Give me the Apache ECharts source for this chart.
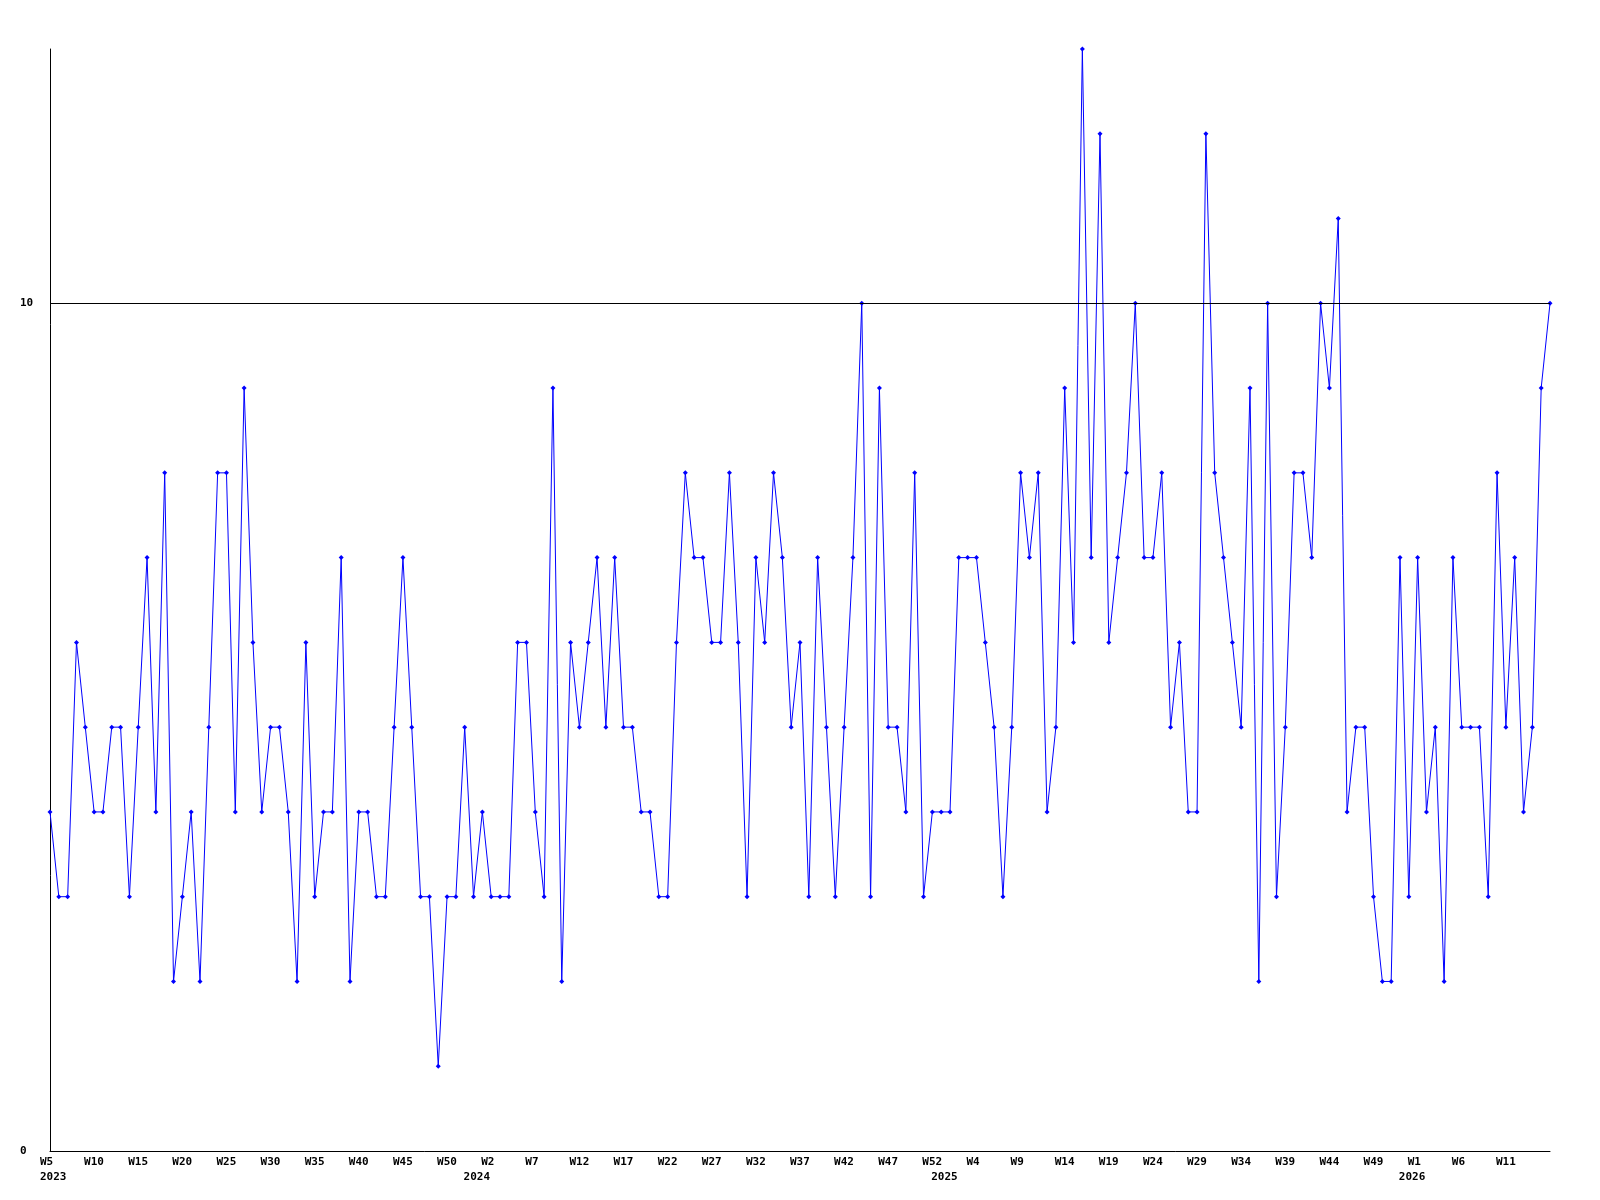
<!DOCTYPE html>
<html>
<head>
<meta charset="utf-8">
<script src="https://cdn.jsdelivr.net/npm/echarts@6/dist/echarts.min.js"></script>
<style>
  html, body { margin: 0; padding: 0; background: #ffffff; }
  #chart { width: 1600px; height: 1200px; }
</style>
</head>
<body>
<div id="chart"></div>
<script>
// Week ranges per year: [year, first week, last week]
const yearSegments = [[2023, 5, 52], [2024, 0, 52], [2025, 0, 52], [2026, 0, 16]];

// Weekly values
const values2023 = [4,3,3,6,5,4,4,5,5,3,5,7,4,8,2,3,4,2,5,8,8,4,9,6,4,5,5,4,2,6,3,4,4,7,
                    2,4,4,3,3,5,7,5,3,3,1,3,3,5];
const values2024 = [3,4,3,3,3,6,6,4,3,9,2,6,5,6,7,5,7,5,5,
                    4,4,3,3,6,8,7,7,6,6,8,6,3,7,6,8,7,5,6,3,7,5,3,5,7,10,3,9,5,5,4,8,3,4];
const values2025 = [4,4,7,7,7,6,5,3,5,8,7,8,4,5,9,6,13,7,12,6,7,8,10,7,7,8,5,6,4,4,12,8,7,
                    6,5,9,2,10,3,5,8,8,7,10,9,11,4,5,5,3,2,2,7];
const values2026 = [3,7,4,5,2,7,5,5,5,3,8,5,7,4,5,9,10];

const yTickLabels = [0, 10];
const referenceLine = 10;

const categories = [];
const yearStart = new Set();
yearSegments.forEach(function (seg) {
  yearStart.add(categories.length);
  for (let w = seg[1]; w <= seg[2]; w++) categories.push(seg[0] + ' W' + w);
});
const values = values2023.concat(values2024, values2025, values2026);
const n = categories.length;

const FONT = 'DejaVu Sans Mono';
const textStyle = { fontFamily: FONT, fontWeight: 'bold', fontSize: 11, color: '#000000',
                    width: 28, align: 'left', padding: [0, 0, 0, 8], lineHeight: 15 };

const chart = echarts.init(document.getElementById('chart'), null, { renderer: 'canvas' });
chart.setOption({
  animation: false,
  backgroundColor: '#ffffff',
  grid: { left: 50, right: 50, top: 49, bottom: 49, containLabel: false },
  xAxis: {
    type: 'category',
    data: categories,
    boundaryGap: false,
    axisLine: { show: true, lineStyle: { color: '#000000', width: 1 } },
    axisTick: { show: false },
    splitLine: { show: false },
    axisLabel: {
      margin: 4,
      interval: function (idx) {
        return (idx % 5 === 0 && idx < n - 1) || yearStart.has(idx);
      },
      formatter: function (v, idx) {
        const parts = v.split(' ');
        const showWeek = idx % 5 === 0 && idx < n - 1;
        let s = showWeek ? '{w|' + parts[1] + '}' : '{h|' + parts[1] + '}';
        if (yearStart.has(idx)) s += '\n{w|' + parts[0] + '}';
        return s;
      },
      rich: {
        w: textStyle,
        h: Object.assign({}, textStyle, { color: 'rgba(0,0,0,0)' })
      }
    }
  },
  yAxis: {
    type: 'value',
    min: 0,
    max: 13,
    interval: 10,
    axisLine: { show: true, lineStyle: { color: '#000000', width: 1 } },
    axisTick: { show: false },
    splitLine: { show: false },
    axisLabel: {
      customValues: yTickLabels,
      align: 'left',
      margin: 30,
      fontFamily: FONT,
      fontWeight: 'bold',
      fontSize: 11,
      color: '#000000'
    }
  },
  series: [{
    type: 'line',
    data: values,
    symbol: 'diamond',
    symbolSize: 5,
    itemStyle: { color: '#0000ff' },
    lineStyle: { color: '#0000ff', width: 1 },
    markLine: {
      silent: true,
      animation: false,
      symbol: 'none',
      label: { show: false },
      lineStyle: { color: '#000000', width: 1, type: 'solid' },
      data: [{ yAxis: referenceLine }]
    }
  }]
});
</script>
</body>
</html>
